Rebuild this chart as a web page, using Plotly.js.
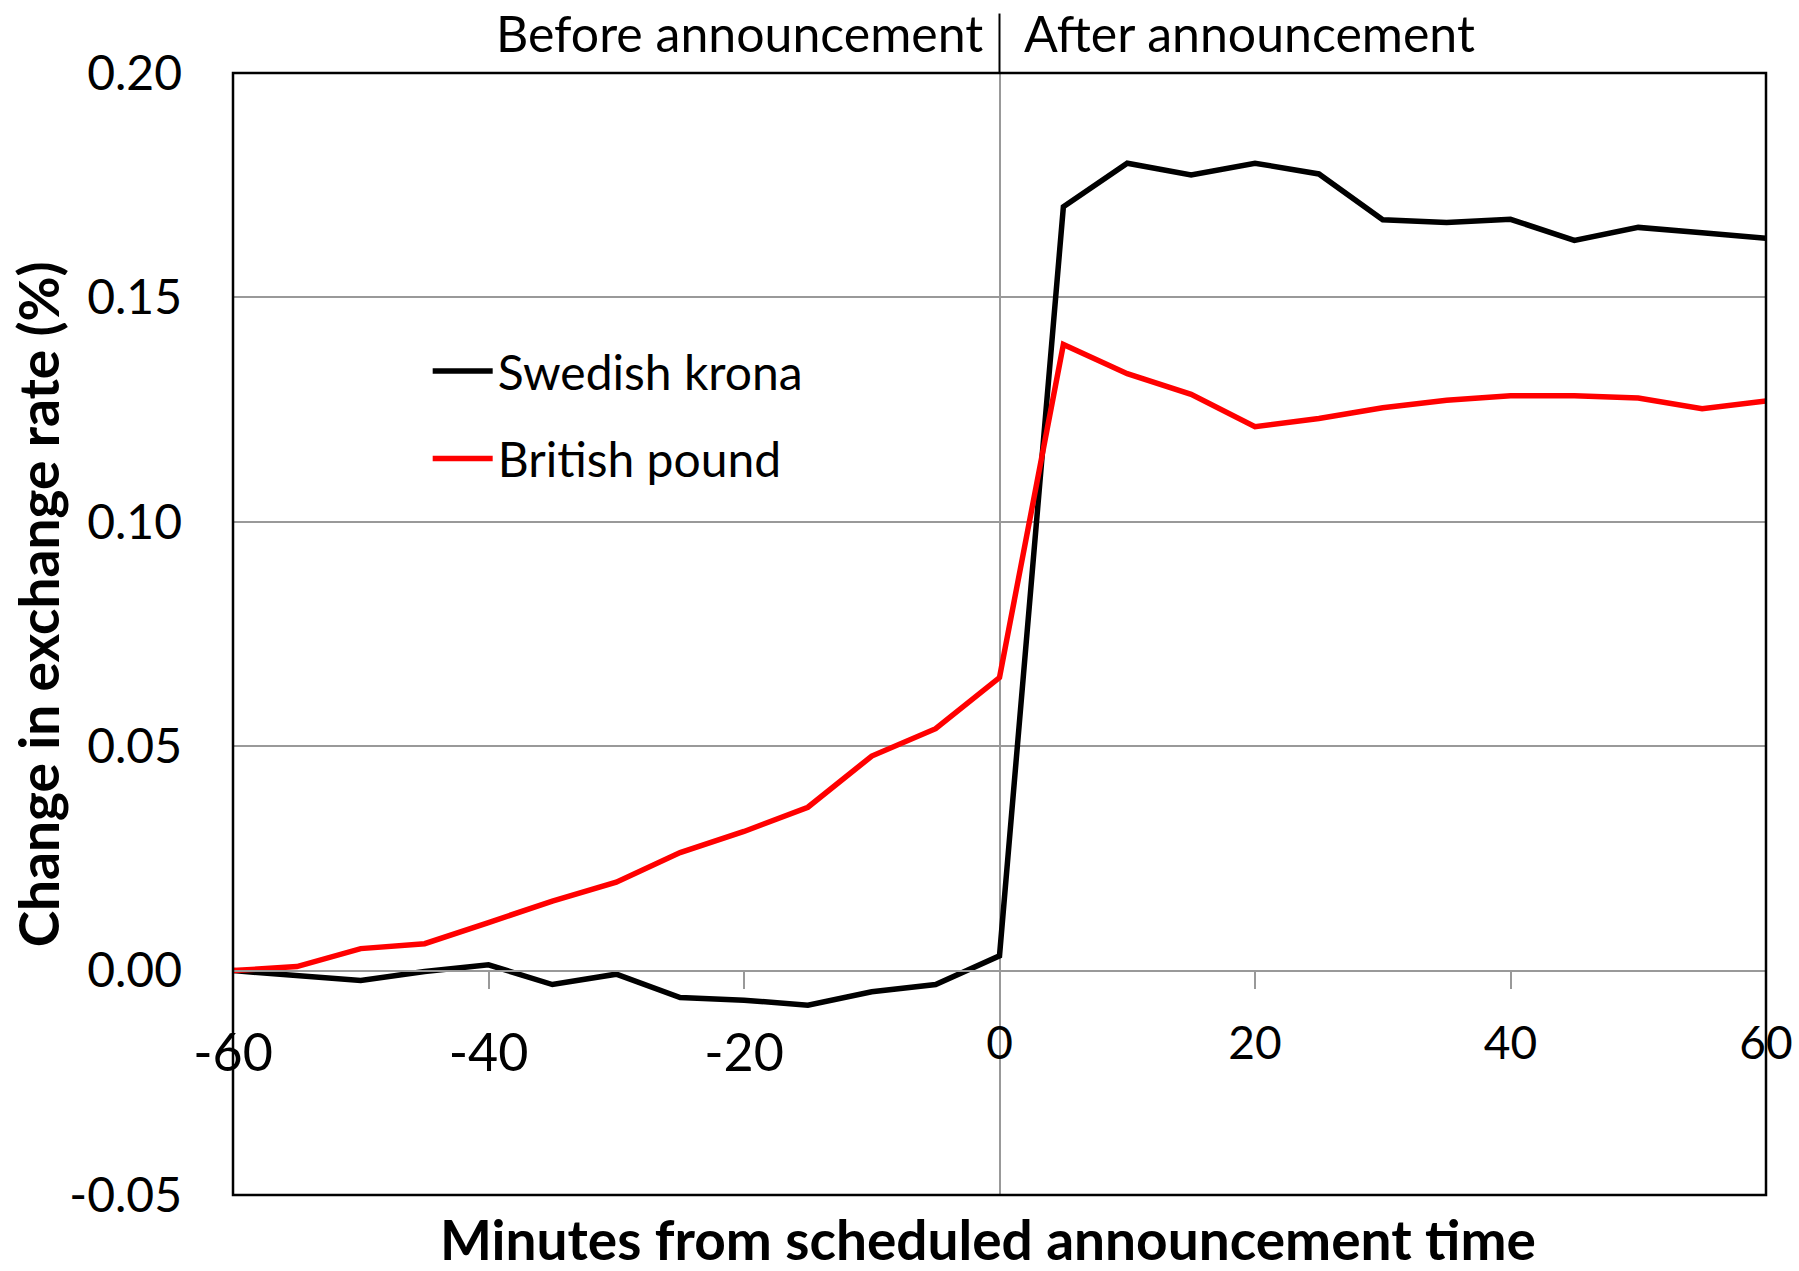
<!DOCTYPE html>
<html>
<head>
<meta charset="utf-8">
<script src="https://cdn.plot.ly/plotly-3.0.1.min.js"></script>
<style>html,body{margin:0;padding:0;background:#fff;}#chart{width:1799px;height:1271px;}</style>
</head>
<body>
<div id="chart"></div>
<script>
const minutes = [-60,-55,-50,-45,-40,-35,-30,-25,-20,-15,-10,-5,0,5,10,15,20,25,30,35,40,45,50,55,60];
const swedishKrona = [0,-0.0011,-0.0022,-0.0002,0.0013,-0.0031,-0.0008,-0.0060,-0.0066,-0.0077,-0.0047,-0.0031,0.0033,
  0.1702,0.1799,0.1773,0.1799,0.1775,0.1673,0.1667,0.1674,0.1627,0.1656,0.1644,0.1632];
const britishPound = [0,0.0009,0.0049,0.0060,0.0107,0.0155,0.0197,0.0263,0.0310,0.0364,0.0478,0.0539,0.0653,
  0.1395,0.1330,0.1284,0.1212,0.1230,0.1254,0.1271,0.1281,0.1281,0.1276,0.1252,0.1269];
const seriesNames = ['Swedish krona','British pound'];
const xTickValsPos = [0,20,40,60];
const xTickTextPos = ['0','20','40','60'];
const xTickValsNeg = [-60,-40,-20];
const xTickTextNeg = ['-60','-40','-20'];
const yTickVals = [-0.05,0,0.05,0.10,0.15,0.20];
const yTickText = ['-0.05','0.00','0.05','0.10','0.15','0.20'];
const yTitle = 'Change in exchange rate (%)';
const xTitle = 'Minutes from scheduled announcement time';
const beforeLabel = 'Before announcement';
const afterLabel = 'After announcement';

const FONT = 'Lato, "Open Sans", sans-serif';

const traces = [
  {x: minutes, y: swedishKrona, name: seriesNames[0], type: 'scatter', mode: 'lines',
   line: {color: '#000000', width: 5.5}, legendgroup: 'a'},
  {x: minutes, y: britishPound, name: seriesNames[1], type: 'scatter', mode: 'lines',
   line: {color: '#ff0000', width: 5.5}, legendgroup: 'b'},
  // carrier for the second x axis (negative tick labels), draws nothing
  {x: [], y: [], xaxis: 'x2', yaxis: 'y', type: 'scatter', mode: 'lines', showlegend: false, hoverinfo: 'skip'}
];

const layout = {
  width: 1799, height: 1271,
  margin: {l: 233, r: 33, t: 73, b: 76},
  paper_bgcolor: '#ffffff', plot_bgcolor: '#ffffff',
  font: {family: FONT, color: '#000000', size: 46},
  showlegend: true,
  legend: {x: 0.127, y: 0.768, xanchor: 'left', yanchor: 'top', bgcolor: 'rgba(0,0,0,0)',
           itemwidth: 60,
           font: {family: FONT, size: 48, color: '#000'}, traceorder: 'grouped', tracegroupgap: 22},
  xaxis: {
    range: [-60, 60], anchor: 'free', position: 0.2,
    tickvals: xTickValsPos.concat(xTickValsNeg), ticktext: xTickTextPos.concat(xTickValsNeg.map(() => '')),
    ticks: 'outside', ticklen: 17, tickwidth: 2, tickcolor: '#999999',
    showline: true, linecolor: '#999999', linewidth: 2,
    showgrid: false, zeroline: true, zerolinecolor: '#999999', zerolinewidth: 2,
    tickfont: {family: FONT, size: 46, color: '#000'}, ticklabelstandoff: 15
  },
  xaxis2: {
    range: [-60, 60], overlaying: 'x', anchor: 'free', position: 0.2, side: 'bottom',
    tickvals: xTickValsNeg, ticktext: xTickTextNeg,
    ticks: '', showline: false, showgrid: false, zeroline: false,
    tickfont: {family: FONT, size: 52, color: '#000'}, ticklabelstandoff: 47
  },
  yaxis: {
    range: [-0.05, 0.20], tickvals: yTickVals, ticktext: yTickText,
    showgrid: true, gridcolor: '#999999', gridwidth: 2,
    zeroline: false, showline: false, ticks: '',
    tickfont: {family: FONT, size: 48, color: '#000'}, ticklabelstandoff: 50
  },
  shapes: [
    {type: 'rect', xref: 'paper', yref: 'paper', x0: 0, x1: 1, y0: 0, y1: 1,
     line: {color: '#000000', width: 2.5}, layer: 'above'},
    {type: 'line', xref: 'paper', yref: 'paper', x0: 0.5, x1: 0.5, y0: 1, y1: 1.053,
     line: {color: '#000000', width: 2}}
  ],
  annotations: [
    {text: beforeLabel, xref: 'paper', yref: 'paper', x: 0.4905, y: 1.036, xanchor: 'right', yanchor: 'middle',
     showarrow: false, font: {family: FONT, size: 50, color: '#000'}},
    {text: afterLabel, xref: 'paper', yref: 'paper', x: 0.5147, y: 1.036, xanchor: 'left', yanchor: 'middle',
     showarrow: false, font: {family: FONT, size: 50, color: '#000'}},
    {text: '<b>' + xTitle + '</b>', xref: 'paper', yref: 'paper', x: 0.4925, y: -0.039, xanchor: 'center', yanchor: 'middle',
     showarrow: false, font: {family: FONT, size: 55, color: '#000'}},
    {text: '<b>' + yTitle + '</b>', xref: 'paper', yref: 'paper', x: -0.1275, y: 0.526, xanchor: 'center', yanchor: 'middle',
     textangle: -90, showarrow: false, font: {family: FONT, size: 55, color: '#000'}}
  ]
};

Plotly.newPlot('chart', traces, layout, {displayModeBar: false, staticPlot: true});
</script>
</body>
</html>
